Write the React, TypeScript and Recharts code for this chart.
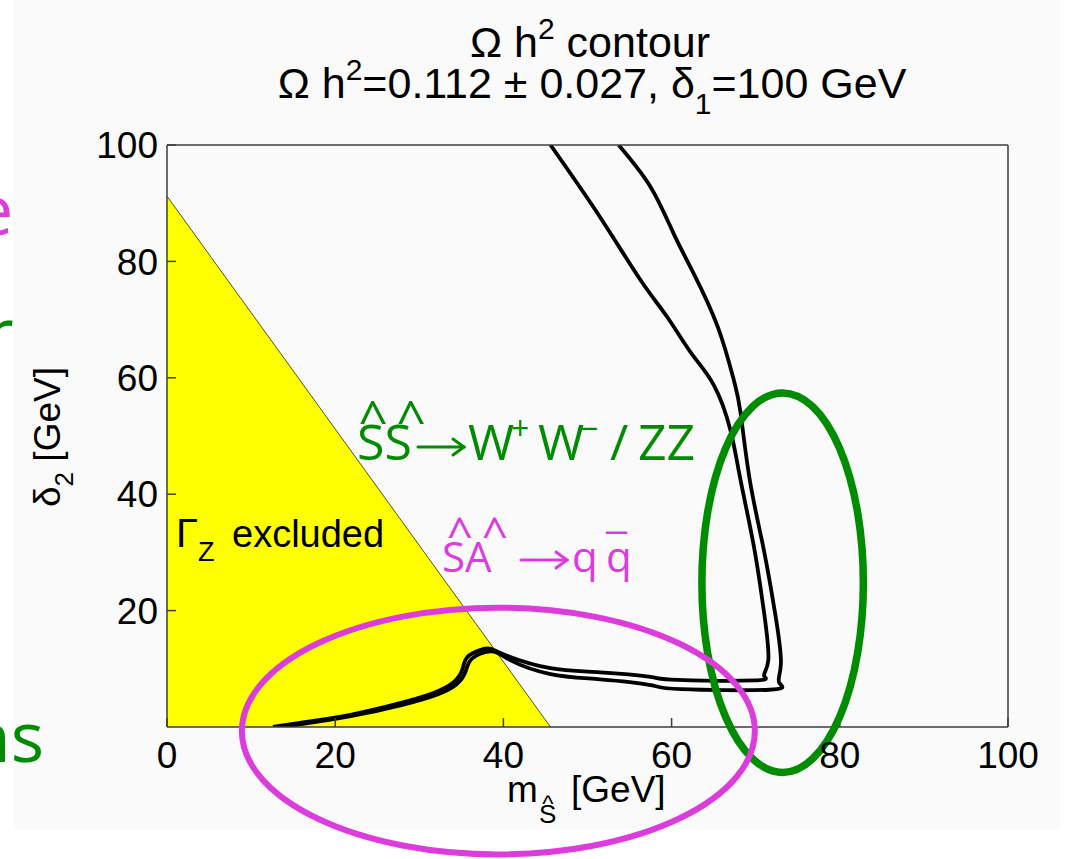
import { ComposedChart, Area, Line, XAxis, YAxis, ReferenceDot } from 'recharts'

const xTicks = [0, 20, 40, 60, 80, 100]
const yTicks = [20, 40, 60, 80, 100]

// Gamma_Z excluded corner (2 m_S + delta_2 < m_Z)
const gammaZEdge = [
  { x: 0, y: 91.2 },
  { x: 45.6, y: 0 },
]

// Omega h^2 = 0.112 +- 0.027 band edges, traced from top to bottom-left
const innerContour = [
  { x: 45.6, y: 100 }, { x: 51.5, y: 87.6 }, { x: 56.3, y: 76.8 }, { x: 59.5, y: 70.4 },
  { x: 62.3, y: 64.3 }, { x: 65.0, y: 58.8 }, { x: 67.0, y: 51.0 }, { x: 68.2, y: 42.4 },
  { x: 69.8, y: 30.9 }, { x: 71.0, y: 19.6 }, { x: 71.5, y: 11.5 }, { x: 71.0, y: 8.8 },
  { x: 69.8, y: 8.0 }, { x: 60.7, y: 8.1 }, { x: 57.5, y: 8.6 },
  { x: 51.5, y: 9.4 }, { x: 45.6, y: 10.1 }, { x: 40.5, y: 12.2 }, { x: 38.6, y: 13.4 },
  { x: 37.4, y: 13.3 }, { x: 35.7, y: 12.0 }, { x: 35.1, y: 9.8 }, { x: 34.0, y: 7.6 },
  { x: 31.6, y: 5.8 }, { x: 27.7, y: 4.1 }, { x: 21.8, y: 2.1 }, { x: 15.8, y: 0.7 },
  { x: 12.6, y: 0 },
]

const outerContour = [
  { x: 53.7, y: 100 }, { x: 57.5, y: 92.8 }, { x: 60.2, y: 84.9 }, { x: 62.6, y: 78.0 },
  { x: 65.5, y: 68.7 }, { x: 67.4, y: 59.6 }, { x: 68.2, y: 54.0 }, { x: 69.3, y: 42.4 },
  { x: 70.9, y: 30.9 }, { x: 72.3, y: 19.6 }, { x: 73.0, y: 11.0 }, { x: 72.8, y: 7.6 },
  { x: 71.6, y: 6.4 }, { x: 61.1, y: 6.5 }, { x: 57.5, y: 7.2 },
  { x: 51.5, y: 8.2 }, { x: 45.6, y: 9.1 }, { x: 40.8, y: 11.5 }, { x: 38.6, y: 13.0 },
  { x: 36.3, y: 11.8 }, { x: 35.5, y: 9.5 }, { x: 34.4, y: 7.3 }, { x: 32.0, y: 5.5 },
  { x: 28.0, y: 3.8 }, { x: 22.0, y: 1.9 }, { x: 16.0, y: 0.5 }, { x: 13.4, y: 0 },
]

// hand drawn rings on the slide (centre + radii in GeV)
const wwRing = { x: 73.2, y: 24.8, rx: 9.6, ry: 32.6 }
const qqRing = { x: 39.4, y: -0.7, rx: 30.5, ry: 21.2 }

const W = 1075
const H = 859
const PLOT_W = 841
const PLOT_H = 582

const GREEN = '#008c00'
const MAGENTA = '#dc3cdc'
const AXIS = '#3c3c3c'
const MAT = '"Liberation Sans", Arial, sans-serif'
const SLIDE = '"Open Sans", "Noto Sans", sans-serif'

function ring(r: { rx: number; ry: number }, color: string, width: number) {
  return (p: any) => (
    <ellipse
      cx={p.cx}
      cy={p.cy}
      rx={(r.rx * PLOT_W) / 100}
      ry={(r.ry * PLOT_H) / 100}
      fill="none"
      stroke={color}
      strokeWidth={width}
    />
  )
}

// thin long arrow like the slide's
function Arrow({ x, y, len, color }: { x: number; y: number; len: number; color: string }) {
  return (
    <g stroke={color} strokeWidth={3} fill="none" strokeLinecap="round">
      <line x1={x} y1={y} x2={x + len} y2={y} />
      <polyline points={`${x + len - 11},${y - 8} ${x + len},${y} ${x + len - 11},${y + 8}`} />
    </g>
  )
}

const tickFont = { fontSize: 37, fill: '#000', fontFamily: MAT }

export default function App() {
  return (
    <div style={{ position: 'absolute', left: 0, top: 0, width: W, height: H, background: '#fff', overflow: 'hidden' }}>
      <div style={{ position: 'absolute', left: 14, top: 0, width: 1046, height: 830, background: '#fafafa' }} />
      <div style={{ position: 'absolute', left: 0, top: 0 }}>
        <ComposedChart width={W} height={H} margin={{ top: 144, right: 66, bottom: 92, left: 107 }} style={{ overflow: 'visible' }}>
          <XAxis
            xAxisId="b"
            type="number"
            dataKey="x"
            domain={[0, 100]}
            allowDataOverflow
            ticks={xTicks}
            height={40}
            tickSize={-9}
            tickMargin={24}
            tick={tickFont}
            axisLine={{ stroke: AXIS, strokeWidth: 1.5 }}
            tickLine={{ stroke: AXIS, strokeWidth: 1.5 }}
          />
          <XAxis
            xAxisId="t"
            orientation="top"
            type="number"
            domain={[0, 100]}
            allowDataOverflow
            ticks={xTicks}
            height={1}
            tickSize={-9}
            tick={false}
            axisLine={{ stroke: AXIS, strokeWidth: 1.5 }}
            tickLine={{ stroke: AXIS, strokeWidth: 1.5 }}
          />
          <YAxis
            yAxisId="l"
            type="number"
            domain={[0, 100]}
            allowDataOverflow
            ticks={yTicks}
            width={60}
            tickSize={-9}
            tickMargin={18}
            tick={tickFont}
            axisLine={{ stroke: AXIS, strokeWidth: 1.5 }}
            tickLine={{ stroke: AXIS, strokeWidth: 1.5 }}
          />
          <YAxis
            yAxisId="r"
            orientation="right"
            type="number"
            domain={[0, 100]}
            allowDataOverflow
            ticks={yTicks}
            width={1}
            tickSize={-9}
            tick={false}
            axisLine={{ stroke: AXIS, strokeWidth: 1.5 }}
            tickLine={{ stroke: AXIS, strokeWidth: 1.5 }}
          />
          <Area
            xAxisId="b"
            yAxisId="l"
            data={gammaZEdge}
            dataKey="y"
            type="linear"
            fill="#ffff00"
            fillOpacity={1}
            stroke="#55550a"
            strokeWidth={1}
            isAnimationActive={false}
          />
          <Line xAxisId="b" yAxisId="l" data={innerContour} dataKey="y" type="natural" dot={false} stroke="#000" strokeWidth={3.8} isAnimationActive={false} />
          <Line xAxisId="b" yAxisId="l" data={outerContour} dataKey="y" type="natural" dot={false} stroke="#000" strokeWidth={3.8} isAnimationActive={false} />
          <ReferenceDot xAxisId="b" yAxisId="l" x={wwRing.x} y={wwRing.y} ifOverflow="visible" shape={ring(wwRing, GREEN, 7.5)} />
          <ReferenceDot xAxisId="b" yAxisId="l" x={qqRing.x} y={qqRing.y} ifOverflow="visible" shape={ring(qqRing, MAGENTA, 6)} />
        </ComposedChart>
      </div>
      <svg width={W} height={H} style={{ position: 'absolute', left: 0, top: 0, pointerEvents: 'none' }}>
        {/* MATLAB figure text */}
        <g fontFamily={MAT} fill="#000">
          <text x={590} y={57} textAnchor="middle" fontSize={43}>
            Ω h<tspan fontSize={30} dy={-18}>2</tspan>
            <tspan dy={18}> contour</tspan>
          </text>
          <text x={592} y={98} textAnchor="middle" fontSize={43}>
            Ω h<tspan fontSize={30} dy={-18}>2</tspan>
            <tspan dy={18}>=0.112 ± 0.027, δ</tspan>
            <tspan fontSize={30} dy={16}>1</tspan>
            <tspan dy={-16}>=100 GeV</tspan>
          </text>
          <text transform="translate(60,437) rotate(-90)" textAnchor="middle" fontSize={37}>
            δ<tspan fontSize={26} dy={13}>2</tspan>
            <tspan dy={-13}> [GeV]</tspan>
          </text>
          <text x={507} y={802} fontSize={37}>m</text>
          <text x={539} y={823} fontSize={26}>S</text>
          <text x={548} y={812} fontSize={24} textAnchor="middle">^</text>
          <text x={571} y={802} fontSize={37}>[GeV]</text>
          <text x={176} y={547} fontSize={40}>
            Γ<tspan fontSize={27} dy={14}>Z</tspan>
            <tspan x={232} dy={-14} fontSize={38}>excluded</tspan>
          </text>
        </g>
        {/* slide annotations */}
        <g fontFamily={SLIDE}>
          <text x={357} y={460} fontSize={50} fill={GREEN}>SS</text>
          <text x={373} y={438} fontSize={52} fill={GREEN} textAnchor="middle">^</text>
          <text x={411} y={438} fontSize={52} fill={GREEN} textAnchor="middle">^</text>
          <Arrow x={418} y={447} len={46} color={GREEN} />
          <text x={468} y={460} fontSize={50} fill={GREEN}>W</text>
          <text x={511} y={440} fontSize={32} fill={GREEN}>+</text>
          <text x={538} y={460} fontSize={50} fill={GREEN}>W</text>
          <text x={580} y={440} fontSize={32} fill={GREEN}>−</text>
          <text x={610} y={460} fontSize={50} fill={GREEN}>/</text>
          <text x={638} y={460} fontSize={50} fill={GREEN}>ZZ</text>

          <text x={442} y={572} fontSize={42} fill={MAGENTA}>SA</text>
          <text x={460} y={550} fontSize={46} fill={MAGENTA} textAnchor="middle">^</text>
          <text x={495} y={550} fontSize={46} fill={MAGENTA} textAnchor="middle">^</text>
          <Arrow x={521} y={560} len={46} color={MAGENTA} />
          <text x={572} y={572} fontSize={42} fill={MAGENTA}>q</text>
          <text x={606} y={572} fontSize={42} fill={MAGENTA}>q</text>
          <text x={606} y={566} fontSize={42} fill={MAGENTA}>¯</text>

          <text x={-26} y={235} fontSize={70} fill={MAGENTA}>e</text>
          <text x={-15} y={358} fontSize={70} fill={GREEN}>r</text>
          <text x={44} y={762} fontSize={70} fill={GREEN} textAnchor="end">ns</text>
        </g>
      </svg>
    </div>
  )
}
